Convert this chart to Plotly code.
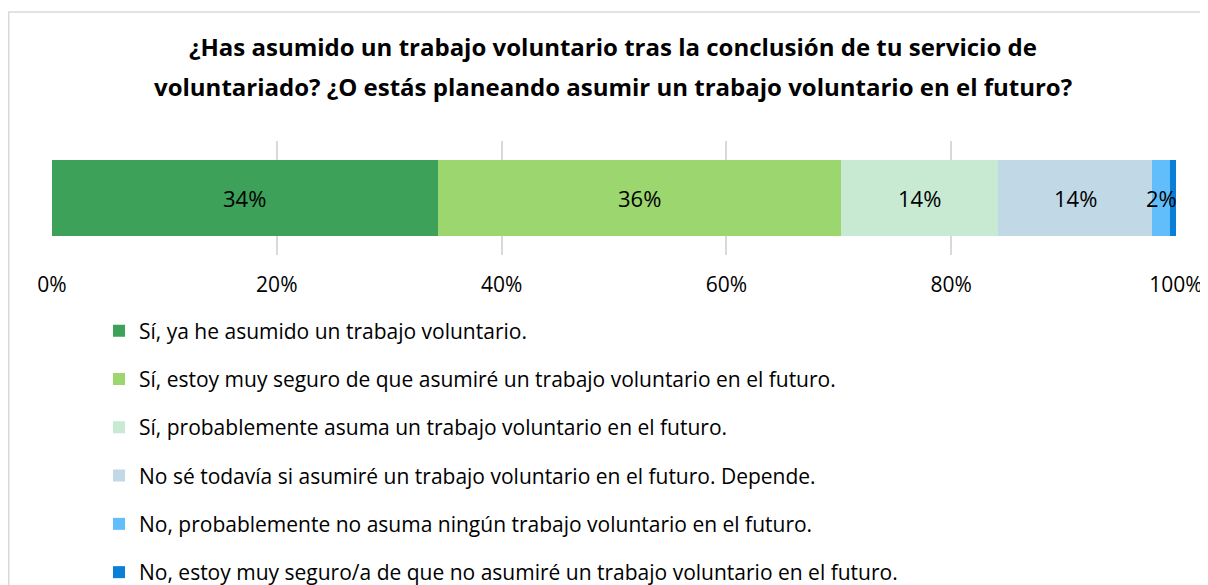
import plotly.graph_objects as go

categories = ["Respuesta"]
series_names = [
    "Sí, ya he asumido un trabajo voluntario.",
    "Sí, estoy muy seguro de que asumiré un trabajo voluntario en el futuro.",
    "Sí, probablemente asuma un trabajo voluntario en el futuro.",
    "No sé todavía si asumiré un trabajo voluntario en el futuro. Depende.",
    "No, probablemente no asuma ningún trabajo voluntario en el futuro.",
    "No, estoy muy seguro/a de que no asumiré un trabajo voluntario en el futuro.",
]
series_values = [34.3, 35.9, 14.0, 13.7, 1.6, 0.5]
series_labels = ["34%", "36%", "14%", "14%", "2%", ""]
colors = ["#3DA15A", "#9BD66E", "#C8EAD2", "#C1D8E6", "#62BDFB", "#0A7FD8"]
tick_vals = [0, 20, 40, 60, 80, 100]
tick_text = ["0%", "20%", "40%", "60%", "80%", "100%"]
title_lines = [
    "¿Has asumido un trabajo voluntario tras la conclusión de tu servicio de",
    "voluntariado? ¿O estás planeando asumir un trabajo voluntario en el futuro?",
]

FONT = "Open Sans"
W, H = 1200, 577  # page body adds an 8px margin

fig = go.Figure()
for i, (name, val, col) in enumerate(zip(series_names, series_values, colors)):
    fig.add_trace(go.Bar(
        y=categories, x=[val], name=name, orientation="h",
        marker=dict(color=col, line=dict(width=0)),
        legendgroup=f"g{i}", hoverinfo="name+x",
    ))

# data labels centered on each segment
cum = 0
for val, lab in zip(series_values, series_labels):
    center = cum + val / 2
    cum += val
    if lab:
        fig.add_annotation(x=center, y=categories[0], xref="x", yref="y", text=lab,
                           showarrow=False, font=dict(family=FONT, size=22, color="#000000"))

# title as two lines
for line, ypos in zip(title_lines, [1.8246, 1.4737]):
    fig.add_annotation(x=0.4991, y=ypos, xref="paper", yref="paper", text=f"<b>{line}</b>",
                       showarrow=False, xanchor="center", yanchor="middle",
                       font=dict(family=FONT, size=24, color="#000000"))

# chart frame (left and top border)
fig.add_shape(type="path", xref="paper", yref="paper",
              path="M -0.0385,-3.0 L -0.0385,2.1316 L 1.04,2.1316",
              line=dict(color="#D9D9D9", width=1.5), layer="above")

fig.update_layout(
    width=W, height=H,
    margin=dict(l=44, r=32, t=133, b=330, autoexpand=False),
    barmode="stack", bargap=0.33,
    paper_bgcolor="white", plot_bgcolor="white",
    font=dict(family=FONT, color="#000000"),
    xaxis=dict(
        range=[0, 100], tickvals=tick_vals, ticktext=tick_text,
        showgrid=True, gridcolor="#D9D9D9", gridwidth=1.5,
        zeroline=False, showline=False, ticks="",
        tickfont=dict(family=FONT, size=21, color="#000000"),
        ticklabelstandoff=15, fixedrange=True, automargin=False,
    ),
    yaxis=dict(showticklabels=False, showgrid=False, zeroline=False, fixedrange=True,
               automargin=False),
    showlegend=True,
    legend=dict(
        xref="container", yref="container",
        x=91 / W, xanchor="left", y=1 - 302.5 / H, yanchor="top",
        traceorder="grouped", tracegroupgap=18,
        font=dict(family=FONT, size=21, color="#000000"),
        bgcolor="rgba(0,0,0,0)",
    ),
)

fig.write_html("out.html", config={"displayModeBar": False})
